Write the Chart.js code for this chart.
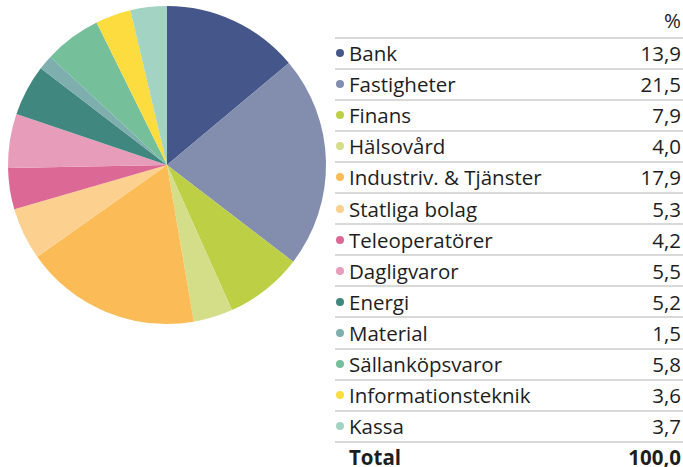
<!DOCTYPE html>
<html><head><meta charset="utf-8">
<script src="https://cdn.jsdelivr.net/npm/chart.js@4/dist/chart.umd.min.js"></script>
<style>
html,body{margin:0;padding:0;background:#fff;width:683px;height:467px;overflow:hidden;font-family:"Open Sans","Noto Sans",sans-serif;color:#1e1e1e;}
#pie{position:absolute;left:0;top:0;}
#tbl{position:absolute;left:335px;top:0;width:348px;}
.hdr{position:absolute;right:2px;top:6px;font-size:20.5px;line-height:28px;}
.row{position:absolute;left:0;width:348px;height:31px;border-top:2px solid #d9d9d9;box-sizing:border-box;display:flex;align-items:center;font-size:20.5px;}
.dot{width:8px;height:8px;border-radius:50%;margin-left:1px;margin-right:5px;flex:none;}
.lab{flex:1;white-space:nowrap;}
.val{margin-right:2px;}
.tot{font-weight:bold;}
</style></head>
<body>
<canvas id="pie" width="334" height="330"></canvas>
<div id="tbl"></div>
<script>
const categories = ["Bank","Fastigheter","Finans","Hälsovård","Industriv. & Tjänster","Statliga bolag","Teleoperatörer","Dagligvaror","Energi","Material","Sällanköpsvaror","Informationsteknik","Kassa"];
const values = [13.9,21.5,7.9,4.0,17.9,5.3,4.2,5.5,5.2,1.5,5.8,3.6,3.7];
const colors = ["#45568a","#838dae","#bccf45","#d4de89","#fbbc58","#fcd190","#dc6895","#e79cba","#3f877f","#7eaeae","#75bf9b","#fddc40","#a3d3c3"];
const totalLabel = "Total";
const totalValue = 100.0;
const unitLabel = "%";

const fmt = v => v.toFixed(1).replace('.', ',');

new Chart(document.getElementById('pie'), {
  type: 'pie',
  data: { labels: categories, datasets: [{ data: values, backgroundColor: colors, borderWidth: 0, radius: 159 }] },
  options: {
    responsive: false, animation: false,
    layout: { padding: 0 },
    plugins: { legend: { display: false }, tooltip: { enabled: false } }
  }
});

const tbl = document.getElementById('tbl');
const hdr = document.createElement('div'); hdr.className = 'hdr'; hdr.textContent = unitLabel; tbl.appendChild(hdr);
const top0 = 36.5, rh = 31.1;
categories.forEach((c, i) => {
  const r = document.createElement('div'); r.className = 'row';
  r.style.top = (top0 + rh * i) + 'px';
  r.innerHTML = `<span class="dot" style="background:${colors[i]}"></span><span class="lab">${c}</span><span class="val">${fmt(values[i])}</span>`;
  tbl.appendChild(r);
});
const t = document.createElement('div'); t.className = 'row tot';
t.style.top = (top0 + rh * categories.length) + 'px';
t.innerHTML = `<span class="dot"></span><span class="lab">${totalLabel}</span><span class="val">${fmt(totalValue)}</span>`;
tbl.appendChild(t);
</script>
</body></html>
